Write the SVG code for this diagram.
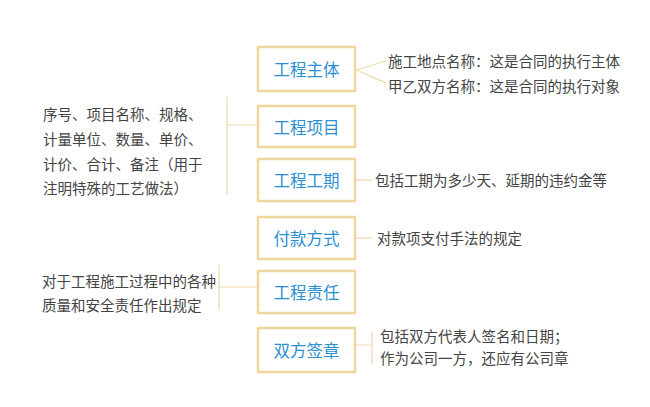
<svg xmlns="http://www.w3.org/2000/svg" width="650" height="407" viewBox="0 0 650 407">
<style>
.box{fill:#fff;stroke:#f0d69c;stroke-width:2.5}
.lbl{font-family:"Noto Sans CJK SC","Noto Sans",sans-serif;font-size:16.5px;fill:#2b8fd2;text-anchor:middle;dominant-baseline:central}
.t{font-family:"Noto Sans CJK SC","Noto Sans",sans-serif;font-size:14.5px;fill:#444;dominant-baseline:central}
.c{stroke:#eed7a8;stroke-width:1.2;fill:none}
</style>
<rect width="650" height="407" fill="#fff"/>
<g id="connectors">
<path class="c" d="M356 70 L386 61 M356 70 L386 83"/>
<path class="c" d="M227 97 V195 M227 125 H258"/>
<path class="c" d="M356 180 H372"/>
<path class="c" d="M356 238 H372"/>
<path class="c" d="M219 265 V310 M219 287 H258"/>
<path class="c" d="M356 345 H372 M372 332 V364"/>
</g>
<g id="n1"><rect class="box" x="258" y="47" width="97" height="44"/><text class="lbl" x="306.5" y="69">工程主体</text></g>
<g id="n2"><rect class="box" x="258" y="106" width="97" height="41"/><text class="lbl" x="306.5" y="127">工程项目</text></g>
<g id="n3"><rect class="box" x="258" y="159" width="97" height="42"/><text class="lbl" x="306.5" y="180">工程工期</text></g>
<g id="n4"><rect class="box" x="258" y="217" width="97" height="42"/><text class="lbl" x="306.5" y="238">付款方式</text></g>
<g id="n5"><rect class="box" x="258" y="271" width="97" height="42"/><text class="lbl" x="306.5" y="292">工程责任</text></g>
<g id="n6"><rect class="box" x="258" y="328" width="97" height="44"/><text class="lbl" x="306.5" y="350">双方签章</text></g>
<g id="texts">
<text class="t" x="388" y="60">施工地点名称：这是合同的执行主体</text>
<text class="t" x="388" y="85">甲乙双方名称：这是合同的执行对象</text>
<text class="t" x="43" y="113">序号、项目名称、规格、</text>
<text class="t" x="43" y="138">计量单位、数量、单价、</text>
<text class="t" x="43" y="163">计价、合计、备注（用于</text>
<text class="t" x="43" y="187">注明特殊的工艺做法）</text>
<text class="t" x="375" y="179">包括工期为多少天、延期的违约金等</text>
<text class="t" x="377" y="237">对款项支付手法的规定</text>
<text class="t" x="42" y="280">对于工程施工过程中的各种</text>
<text class="t" x="42" y="304">质量和安全责任作出规定</text>
<text class="t" x="380" y="335">包括双方代表人签名和日期；</text>
<text class="t" x="380" y="357">作为公司一方，还应有公司章</text>
</g>
</svg>
